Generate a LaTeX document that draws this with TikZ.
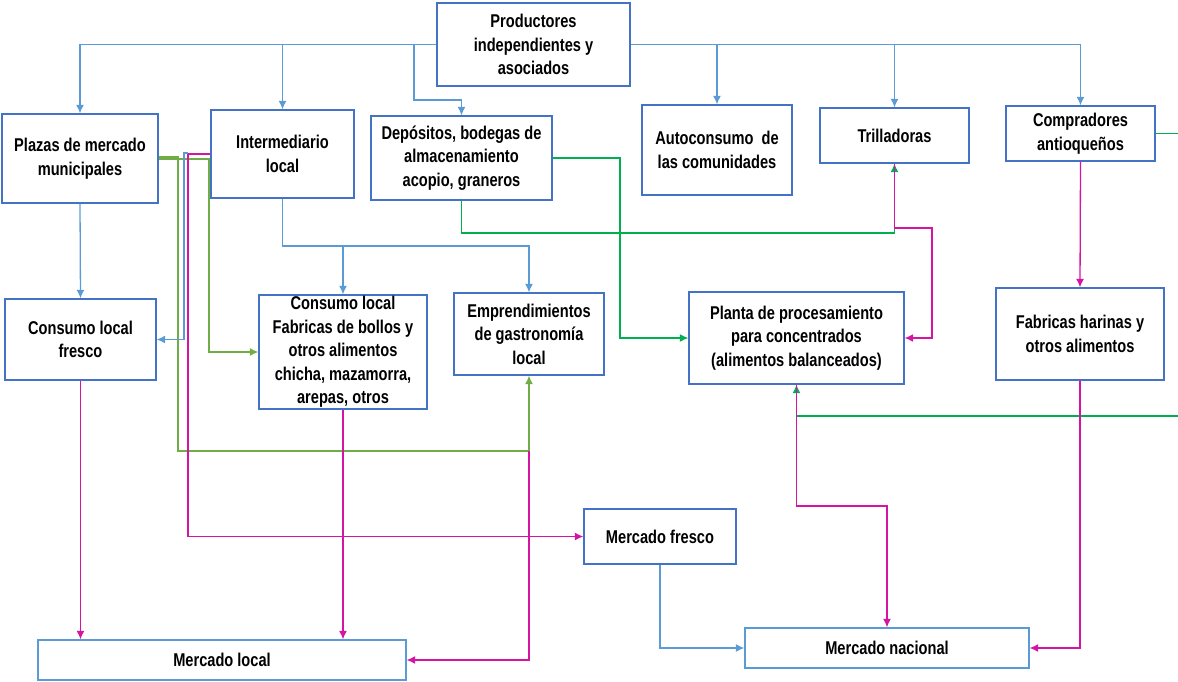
\documentclass[tikz,border=0pt]{standalone}
\usepackage{fontspec}
\setmainfont{Liberation Sans}[FakeStretch=0.79]
\usetikzlibrary{arrows.meta}
\definecolor{boxblue}{RGB}{68,114,196}
\definecolor{lineblue}{RGB}{91,155,213}
\definecolor{gbright}{RGB}{0,176,80}
\definecolor{golive}{RGB}{112,173,71}
\definecolor{mag}{RGB}{214,20,164}
\begin{document}
\begin{tikzpicture}[x=1pt,y=-1pt,
  box/.style={draw=boxblue,line width=1.3pt,align=center,inner sep=0pt,fill=white,
    font=\fontsize{18.5}{23.5}\selectfont\bfseries},
  con/.style={line width=1.3pt},
  bl/.style={con,draw=lineblue},
  gb/.style={con,draw=gbright},
  go/.style={con,draw=golive},
  mg/.style={con,draw=mag},
  tip/.style={-{Latex[length=8.5pt,width=8pt]}}
]
\useasboundingbox (0,0) rectangle (1178,681);

% boxes
\node[box,minimum width=193pt,minimum height=83pt] (prod) at (533.5,44.5) {Productores\\independientes y\\asociados};
\node[box,minimum width=156pt,minimum height=89pt] (plazas) at (80,158.5) {Plazas de mercado\\municipales};
\node[box,minimum width=143pt,minimum height=88pt] (inter) at (282.5,154) {Intermediario\\local};
\node[box,minimum width=181pt,minimum height=84pt] (depos) at (461.5,158) {Depósitos, bodegas de\\almacenamiento\\acopio, graneros};
\node[box,minimum width=150pt,minimum height=90pt] (auto) at (717,150) {Autoconsumo \ de\\las comunidades};
\node[box,minimum width=149pt,minimum height=55pt] (trill) at (894.5,135.5) {Trilladoras};
\node[box,minimum width=149pt,minimum height=55pt] (compr) at (1080.5,133.5) {Compradores\\antioqueños};
\node[box,minimum width=151pt,minimum height=81pt] (fresco) at (80.5,339.5) {Consumo local\\fresco};
\node[box,minimum width=168pt,minimum height=114pt] (fabr) at (343,352) {Consumo local\\Fabricas de bollos y\\otros alimentos\\chicha, mazamorra,\\arepas, otros};
\node[box,minimum width=150pt,minimum height=82pt] (empr) at (529,334) {Emprendimientos\\de gastronomía\\local};
\node[box,minimum width=215pt,minimum height=92pt] (planta) at (796.5,338) {Planta de procesamiento\\para concentrados\\(alimentos balanceados)};
\node[box,minimum width=168pt,minimum height=92pt] (harinas) at (1080,334) {Fabricas harinas y\\otros alimentos};
\node[box,minimum width=152pt,minimum height=55pt] (mfresco) at (660,536.5) {Mercado fresco};
\node[box,minimum width=368pt,minimum height=40pt,draw=lineblue] (mlocal) at (222,660) {Mercado local};
\node[box,minimum width=284pt,minimum height=40pt,draw=lineblue] (mnac) at (887,648) {Mercado nacional};

% coordinates
\coordinate (b1) at (414,44.5);
\coordinate (b2) at (414,100);
\coordinate (j1) at (282.5,246);
\coordinate (g2) at (894.5,233);
\coordinate (m1) at (887,506);
\coordinate (m2) at (932,228);
\coordinate (e1) at (1185,133.5);
\coordinate (e2) at (1185,416);
\coordinate (o1) at (529,451);

% green
\draw[gb,tip] (depos.east) -- (620,158) |- (planta.west);
\draw[gb,tip] (depos.south) |- (g2) -- (trill.south);
\draw[gb] (compr.east) -- (e1);
\draw[gb,tip] (e2) -| (planta.south);
\draw[go,tip] ([yshift=1.5pt]plazas.east) -- (178,157) |- (o1) -- (empr.south);
\draw[go,tip] ([yshift=-0.5pt]plazas.east) -- (209,159) |- (fabr.west);

% magenta
\draw[mg,tip] (inter.west) -- (188,154) |- (mfresco.west);
\draw[mg,tip] (fresco.south) -- (fresco.south |- mlocal.north);
\draw[mg,tip] (fabr.south) -- (fabr.south |- mlocal.north);
\draw[mg,tip] (o1) |- (mlocal.east);
\draw[mg,tip] (trill.south) |- (m2) |- (planta.east);
\draw[mg,tip] (planta.south) |- (m1) -- (mnac.north);
\draw[mg,tip] (compr.south) -- (harinas.north);
\draw[mg,tip] (harinas.south) |- (mnac.east);

% blue
\draw[bl,tip] (prod.west) -| (plazas.north);
\draw[bl,tip] (prod.east) -| (compr.north);
\draw[bl,tip] (inter.north |- prod.west) -- (inter.north);
\draw[bl,tip] (b1) -- (b2) -| (depos.north);
\draw[bl,tip] (auto.north |- prod.east) -- (auto.north);
\draw[bl,tip] (trill.north |- prod.east) -- (trill.north);
\draw[bl,tip] (plazas.south) -- (fresco.north);
\draw[bl,tip] (inter.south) -- (j1) -| (empr.north);
\draw[bl,tip] (fabr.north |- j1) -- (fabr.north);
\draw[bl,tip] (188,153) -- (184,153) |- (fresco.east);
\draw[bl,tip] (mfresco.south) |- (mnac.west);
\end{tikzpicture}
\end{document}
